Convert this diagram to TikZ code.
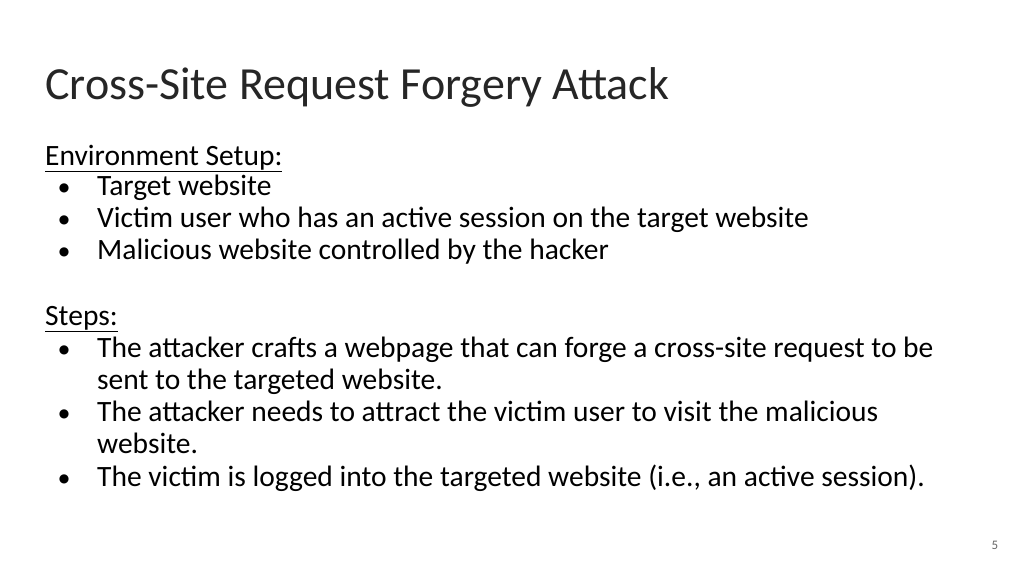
\documentclass[tikz,border=0pt]{standalone}
\usepackage{fontspec}
\setmainfont{Carlito}
\newfontfamily\symfont{DejaVu Sans}
\tikzset{
  line/.style={anchor=base west, inner sep=0pt, font=\fontsize{29.5}{34}\selectfont},
  dot/.style={anchor=base, inner sep=0pt, font=\symfont\fontsize{12}{14}\selectfont},
}
\begin{document}
\begin{tikzpicture}[x=1pt,y=-1pt]
\useasboundingbox (0,0) rectangle (1024,576);
\node[anchor=base west, inner sep=0pt, font=\fontsize{46}{54}\selectfont, text=black!85] (title) at (45,99) {Cross-Site Request Forgery Attack};
% environment
\node[line] (envhead) at (45,165) {\underline{Environment Setup:}};
\node[line] (env1) at (97,195) {Target website};
\node[line] (env2) at (97,227) {Victim user who has an active session on the target website};
\node[line] (env3) at (97,259) {Malicious website controlled by the hacker};
\foreach \y in {195,227,259} \node[dot] at (64,\y-4) {●};
% steps
\node[line] (stephead) at (45,325) {\underline{Steps:}};
\node[line] (step1) at (97,357) {The attacker crafts a webpage that can forge a cross-site request to be};
\node[line] (step1b) at (97,389) {sent to the targeted website.};
\node[line] (step2) at (97,421) {The attacker needs to attract the victim user to visit the malicious};
\node[line] (step2b) at (97,453) {website.};
\node[line] (step3) at (97,486) {The victim is logged into the targeted website (i.e., an active session).};
\foreach \y in {357,421,486} \node[dot] at (64,\y-4) {●};
\node[anchor=base, inner sep=0pt, font=\fontsize{13}{15}\selectfont, text=black!60] (page) at (995,549) {5};
\end{tikzpicture}
\end{document}
